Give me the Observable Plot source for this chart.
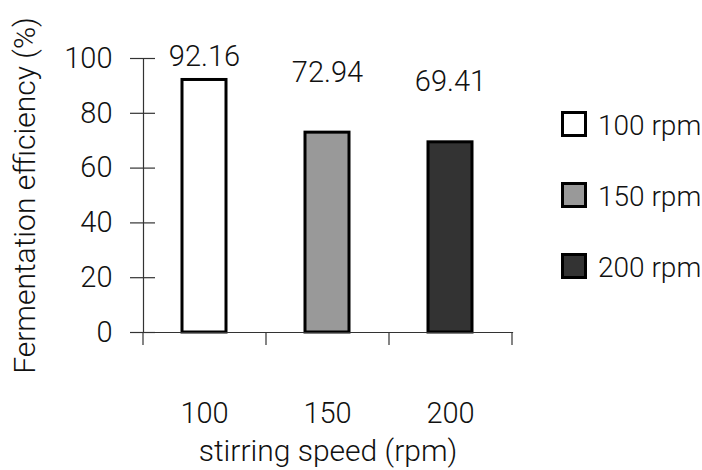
<!DOCTYPE html>
<html>
<head>
<meta charset="utf-8">
<script src="https://cdn.jsdelivr.net/npm/d3@7"></script>
<script src="https://cdn.jsdelivr.net/npm/@observablehq/plot@0.6"></script>
<style>
  body { margin: 0; background: #fff; }
  #wrap { position: relative; width: 702px; height: 470px; font-family: Roboto, "Liberation Sans", Arial, sans-serif; font-weight: 300; color: #111; }
  #wrap svg { position: absolute; left: 0; top: 0; font-weight: 300; }
  #legend { position: absolute; left: 561px; top: 111px; display: flex; flex-direction: column; gap: 45px; }
  .item { display: flex; align-items: center; height: 26px; }
  .sw { width: 26px; height: 26px; box-sizing: border-box; border: 3px solid #000; }
  .lab { margin-left: 11px; font-size: 28px; line-height: 26px; position: relative; top: 2px; white-space: nowrap; }
</style>
</head>
<body>
<div id="wrap"><div id="legend"></div></div>
<script>
// ---- data ----
const speeds = ["100", "150", "200"];
const efficiency = [92.16, 72.94, 69.41];
const labelAt = [100.7, 94.9, 91.6];   // where the value labels sit (y units)
const yTicks = [0, 20, 40, 60, 80, 100];
const legendLabels = ["100 rpm", "150 rpm", "200 rpm"];
const barColors = ["#ffffff", "#999999", "#333333"];
const xTitle = "stirring speed (rpm)";
const yTitle = "Fermentation efficiency (%)";

const rows = speeds.map((s, i) => ({ speed: s, value: efficiency[i], labelY: labelAt[i] }));

// ---- layout ----
const W = 702, H = 470, mL = 143, mR = 190, mT = 58, mB = 138;
const pInner = 0.642, pOuter = pInner / 2;
const step = (W - mL - mR) / (speeds.length - pInner + 2 * pOuter);
const font = 'Roboto, "Liberation Sans", Arial, sans-serif';

const chart = Plot.plot({
  width: W, height: H,
  marginLeft: mL, marginRight: mR, marginTop: mT, marginBottom: mB,
  style: { fontFamily: font, fontSize: "29px", color: "#111", background: "transparent" },
  x: { domain: speeds, paddingInner: pInner, paddingOuter: pOuter, axis: null },
  y: { domain: [0, 100], axis: null },
  color: { domain: speeds, range: barColors },
  marks: [
    Plot.barY(rows, { x: "speed", y: "value", fill: "speed", stroke: "#000", strokeWidth: 3 }),
    Plot.frame({ anchor: "left", stroke: "#333", strokeWidth: 1.2 }),
    Plot.frame({ anchor: "bottom", stroke: "#333", strokeWidth: 1.2 }),
    Plot.axisY({ ticks: yTicks, tickSize: 25, dx: 12, tickPadding: 18, label: null,
                 stroke: "#333", strokeWidth: 1.2, fontSize: 29, tickFormat: d => String(d) }),
    Plot.axisX(speeds, { tickSize: 13, dx: -step / 2, tickFormat: () => "", label: null, stroke: "#333", strokeWidth: 1.2 }),
    Plot.axisX([speeds[speeds.length - 1]], { tickSize: 13, dx: step / 2, tickFormat: () => "", label: null, stroke: "#333", strokeWidth: 1.2 }),
    Plot.axisX(speeds, { tickSize: 0, tickPadding: 70, label: null, fontSize: 29 }),
    Plot.text(rows, { x: "speed", y: "labelY", text: d => d.value.toFixed(2), fontSize: 29, lineAnchor: "middle" }),
    Plot.text([xTitle], { text: d => d, frameAnchor: "bottom", dy: 119, fontSize: 30, lineAnchor: "middle", textAnchor: "middle" }),
    Plot.text([yTitle], { text: d => d, frameAnchor: "left", rotate: -90, dx: -118, fontSize: 30, lineAnchor: "middle", textAnchor: "middle" })
  ]
});
document.getElementById("wrap").appendChild(chart);

// ---- legend ----
const legend = document.getElementById("legend");
legendLabels.forEach((t, i) => {
  const item = document.createElement("div");
  item.className = "item";
  const sw = document.createElement("div");
  sw.className = "sw";
  sw.style.background = barColors[i];
  const lab = document.createElement("span");
  lab.className = "lab";
  lab.textContent = t;
  item.appendChild(sw);
  item.appendChild(lab);
  legend.appendChild(item);
});
</script>
</body>
</html>
